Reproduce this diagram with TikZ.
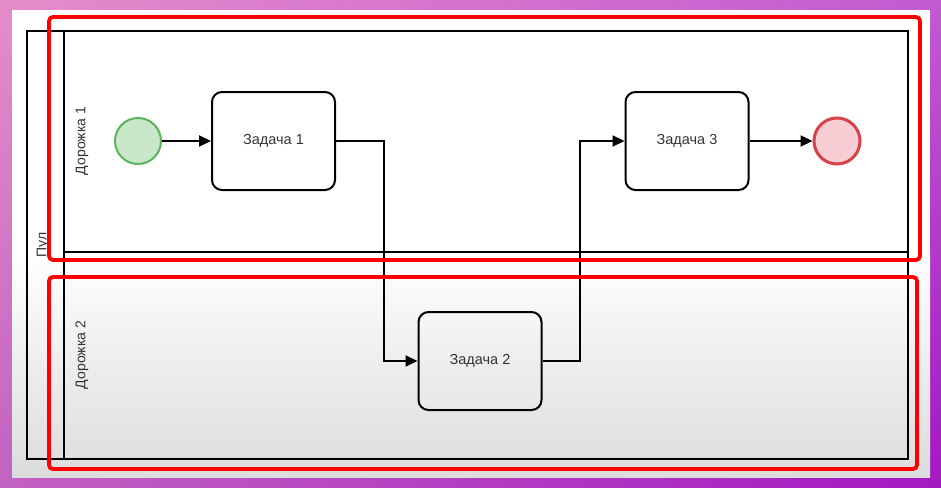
\documentclass[tikz,border=0pt]{standalone}
\usepackage{fontspec}
\setmainfont{Liberation Sans}
\usepackage{tikz}
\usepackage{xcolor}
\usetikzlibrary{positioning}
\usetikzlibrary{arrows.meta}
\usetikzlibrary{shadings}

\definecolor{bgPink}{HTML}{E68CCA}
\definecolor{bgViolet}{HTML}{C25AD2}
\definecolor{bgPlum}{HTML}{C262C2}
\definecolor{bgPurple}{HTML}{A418C2}
\definecolor{startFill}{HTML}{C9E7C9}
\definecolor{startLine}{HTML}{5DB35D}
\definecolor{endFill}{HTML}{F8CDD3}
\definecolor{endLine}{HTML}{D7434B}
\definecolor{laneGrey}{HTML}{DCDCDC}
\definecolor{textGrey}{HTML}{333333}

\begin{document}
\begin{tikzpicture}[
    x=1pt, y=-1pt,
    task/.style={%
      draw,
      rectangle,
      rounded corners=10pt,
      line width=2pt,
      minimum width=123pt,
      minimum height=98pt,
      text=textGrey,
      font=\fontsize{14.5}{17}\selectfont,
    },
    event/.style={%
      draw,
      circle,
      inner sep=0pt,
      minimum size=46pt,
    },
    lane/.style={%
      rotate=90,
      text=textGrey,
      font=\fontsize{14}{16}\selectfont,
    },
    flow/.style={%
      draw,
      line width=2pt,
      -{Triangle[length=12pt,width=11pt]},
    },
    mark box/.style={%
      draw=red,
      line width=3.8pt,
      rounded corners=4pt,
    },
  ]

    % frame
    \useasboundingbox (0,0) rectangle (941,487);
    \shade [upper left=bgPink, upper right=bgViolet,
      lower left=bgPlum, lower right=bgPurple] (0,0) rectangle (941,487);
    \fill [white] (12,10) rectangle (930,252);
    \shade [top color=white, bottom color=laneGrey] (12,252) rectangle (930,477);

    % pool and lanes
    \draw [line width=2pt] (27,31) rectangle (908,459);
    \draw [line width=2pt] (64,31) -- (64,459);
    \draw [line width=2pt] (64,252) -- (908,252);
    \node [lane] (P) at (43,245) {Пул};
    \node [lane] (L1) at (82,141) {Дорожка 1};
    \node [lane] (L2) at (82,355) {Дорожка 2};

    % process
    \node [event, fill=startFill, draw=startLine, line width=2pt] (A) at (138,141) {};
    \node [task, right=49pt of A] (B) {Задача 1};
    \node [task] (C) at (480,361) {Задача 2};
    \node [task] (D) at (687,141) {Задача 3};
    \node [event, fill=endFill, draw=endLine, line width=3pt, right=63pt of D] (E) {};

    \draw [flow] (A) -- (B);
    \draw [flow] (B.east) -- ++(48,0) |- (C.west);
    \draw [flow] (C.east) -- ++(37,0) |- (D.west);
    \draw [flow] (D) -- (E);

    % highlights
    \draw [mark box] (49,17) rectangle (920,260);
    \draw [mark box] (49,277) rectangle (917,469);
\end{tikzpicture}
\end{document}
